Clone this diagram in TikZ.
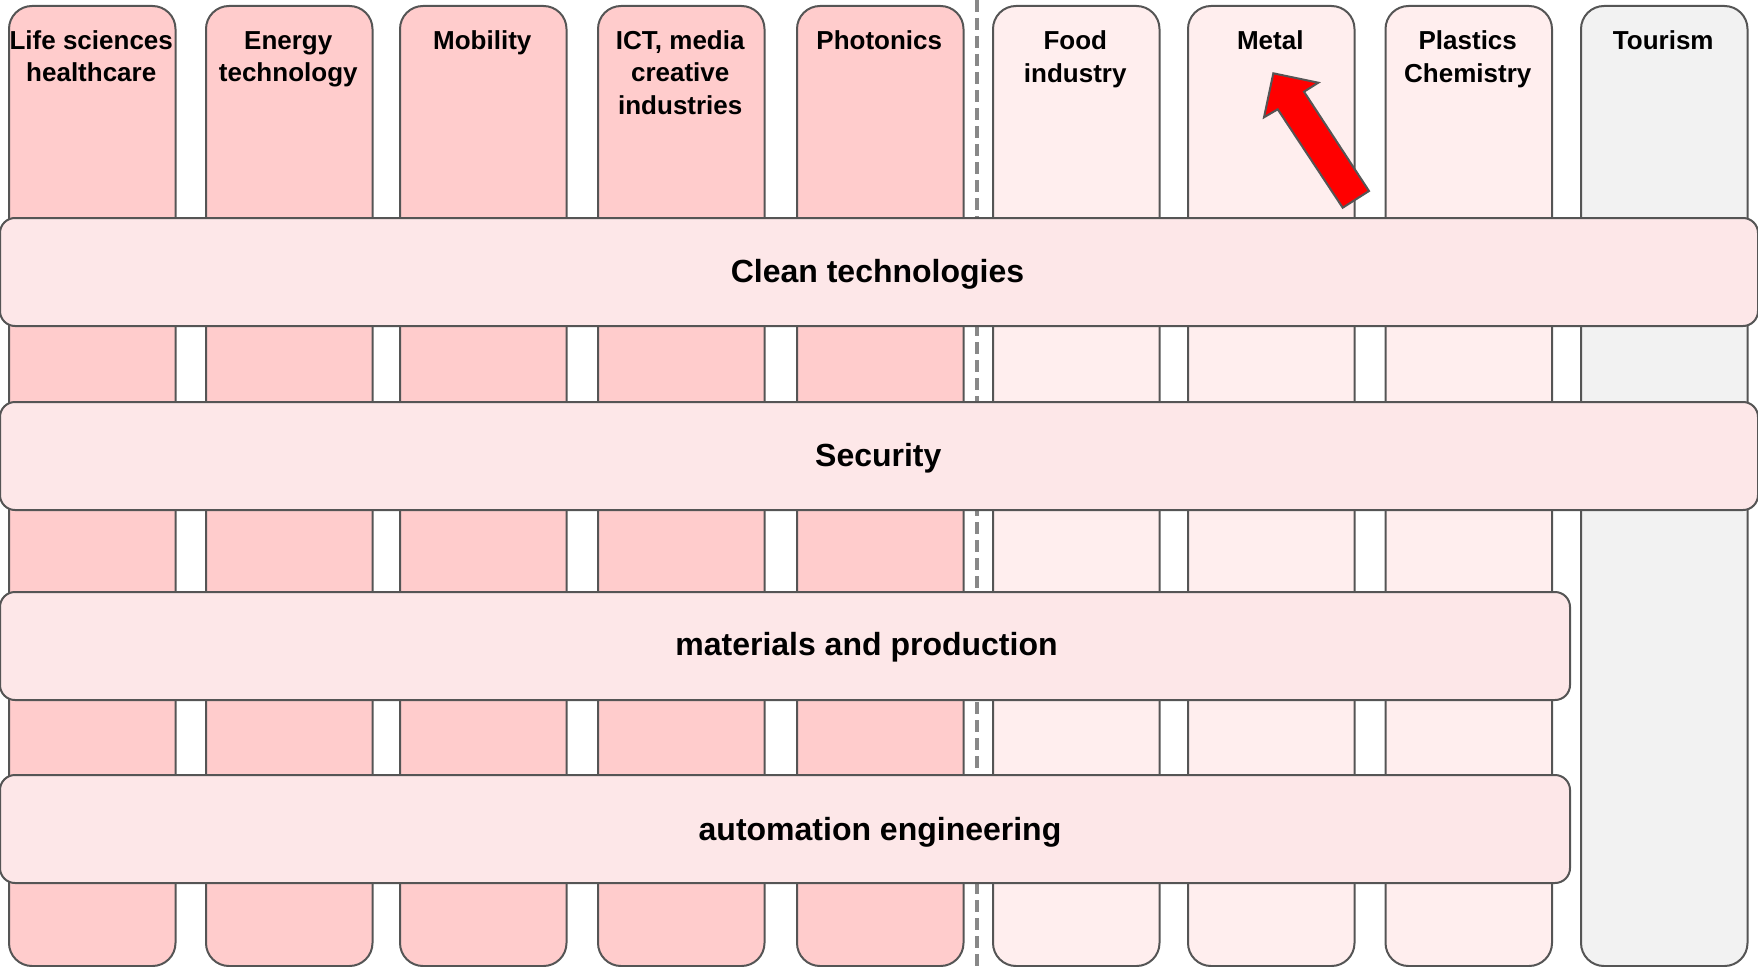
\documentclass[tikz,border=0pt]{standalone}
\usepackage{fontspec}
\setmainfont{Liberation Sans}
\definecolor{colstrong}{HTML}{FFCCCC}
\definecolor{collight}{HTML}{FFEEEE}
\definecolor{colgrey}{HTML}{F2F2F2}
\definecolor{barfill}{HTML}{FDE7E8}
\definecolor{edge}{HTML}{555555}
\definecolor{dashgrey}{HTML}{888888}
\begin{document}
\begin{tikzpicture}[x=1pt,y=-1pt,
  colbox/.style={draw=edge, line width=2pt, rounded corners=23pt, minimum width=166.5pt, minimum height=960pt, inner sep=0pt, anchor=north west},
  strong/.style={colbox, fill=colstrong},
  light/.style={colbox, fill=collight},
  grey/.style={colbox, fill=colgrey},
  barbox/.style={draw=edge, line width=2pt, fill=barfill, rounded corners=15pt, minimum height=108pt, inner sep=0pt, anchor=north west},
  coltext/.style={font=\fontsize{26}{32.7}\selectfont\bfseries, anchor=base, inner sep=0pt},
  bartext/.style={font=\fontsize{32}{38}\selectfont\bfseries, anchor=base, inner sep=0pt},
  divider/.style={draw=dashgrey, line width=3.5pt, dash pattern=on 12pt off 6pt},
  bigarrow/.style={draw=edge, line width=2pt, fill=red, line join=miter}
]
\useasboundingbox (0,0) rectangle (1758,966);
\clip (0,0) rectangle (1758,966);
% dashed divider
\coordinate (dtop) at (977,0);
\coordinate (dbot) at (977,966);
\draw[divider] (dtop) -- (dbot);
% columns
\node[strong] (life) at (8,5) {};
\node[strong] (energy) at (205,5) {};
\node[strong] (mobility) at (399,5) {};
\node[strong] (ict) at (597,5) {};
\node[strong] (photonics) at (796,5) {};
\node[light] (food) at (992,5) {};
\node[light] (metal) at (1187,5) {};
\node[light] (plastics) at (1384.5,5) {};
\node[grey] (tourism) at (1580,5) {};
% column labels
\node[coltext] (life1) at (91.25,49) {Life sciences};
\node[coltext] (life2) at (91.25,81.7) {healthcare};
\node[coltext] (energy1) at (288.25,49) {Energy};
\node[coltext] (energy2) at (288.25,81.7) {technology};
\node[coltext] (mob1) at (482.25,49) {Mobility};
\node[coltext] (ict1) at (680.25,49) {ICT, media};
\node[coltext] (ict2) at (680.25,81.7) {creative};
\node[coltext] (ict3) at (680.25,114.4) {industries};
\node[coltext] (pho1) at (879.25,49) {Photonics};
\node[coltext] (food1) at (1075.25,50) {Food};
\node[coltext] (food2) at (1075.25,82.7) {industry};
\node[coltext] (metal1) at (1270.25,50) {Metal};
\node[coltext] (pla1) at (1467.75,50) {Plastics};
\node[coltext] (pla2) at (1467.75,82.7) {Chemistry};
\node[coltext] (tour1) at (1663.25,50) {Tourism};
% bars
\node[barbox, minimum width=1758pt] (clean) at (-1,217) {};
\node[barbox, minimum width=1758pt] (security) at (-1,401) {};
\node[barbox, minimum width=1570pt] (materials) at (-1,591) {};
\node[barbox, minimum width=1570pt] (automation) at (-1,774) {};
\node[bartext] (cleanlab) at (877.5,282.7) {Clean technologies};
\node[bartext] (seclab) at (878.3,466.7) {Security};
\node[bartext] (matlab) at (866.5,655) {materials and production};
\node[bartext] (autolab) at (880,840) {automation engineering};
% red arrow
\draw[bigarrow] (1273.3,73.3) -- (1318.3,82.7) -- (1304,91.7) -- (1369,191) -- (1342.7,207.7) -- (1277.7,109.3) -- (1264,117.3) -- cycle;
\end{tikzpicture}
\end{document}
